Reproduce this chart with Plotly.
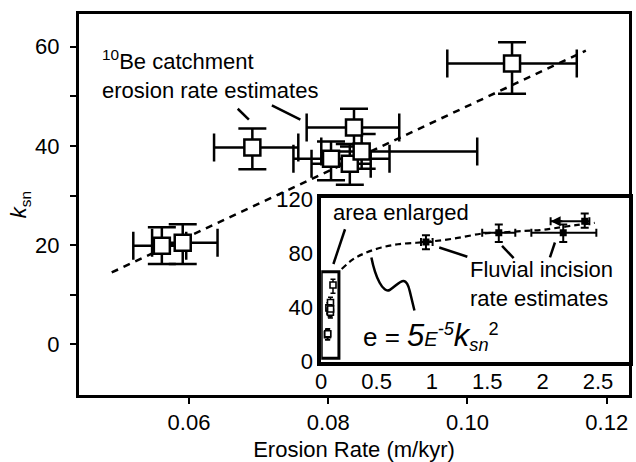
import plotly.graph_objects as go

# ---- main panel data: 10Be catchment erosion rates ----
be_rate = [0.1064, 0.0837, 0.0691, 0.0804, 0.0831, 0.0848, 0.0561, 0.0591]
be_ksn = [56.6, 43.7, 39.7, 37.4, 36.4, 38.9, 19.9, 20.5]
be_rate_err_minus = [0.0093, 0.0068, 0.0055, 0.0054, 0.0055, 0.0058, 0.0041, 0.0044]
be_rate_err_plus = [0.0093, 0.0065, 0.0066, 0.0084, 0.0030, 0.0166, 0.0035, 0.0050]
be_ksn_err_plus = [4.3, 3.8, 3.8, 3.5, 4.0, 3.5, 3.7, 3.7]
be_ksn_err_minus = [6.1, 3.8, 4.4, 4.3, 4.2, 3.5, 3.7, 4.3]

# regression line of main panel
trend_rate = [0.0489, 0.1170]
trend_ksn = [14.5, 59.2]

# ---- inset data: fluvial incision rates ----
fl_rate = [0.946, 1.604, 2.186, 2.38]
fl_ksn = [88.4, 95.3, 95.3, 103.8]
fl_rate_err_minus = [0.045, 0.150, 0.288, 0.308]
fl_rate_err_plus = [0.060, 0.149, 0.299, 0.042]
fl_ksn_err_plus = [5.0, 6.1, 6.1, 5.7]
fl_ksn_err_minus = [5.3, 6.9, 6.9, 4.8]

# inset dashed curve (e = 5E-5 ksn^2 relation as drawn)
curve_rate = [0.185, 0.289, 0.394, 0.543, 0.693, 0.946, 1.20, 1.454, 1.604,
              1.828, 1.977, 2.10, 2.30, 2.47]
curve_ksn = [68.4, 75.7, 80.1, 84.3, 86.7, 88.4, 90.9, 94.6, 95.3,
             96.5, 97.2, 98.5, 100.8, 102.5]

main_xticks = [0.06, 0.08, 0.10, 0.12]
main_xticklabels = ["0.06", "0.08", "0.10", "0.12"]
main_yticks = [0, 20, 40, 60]
inset_xticks = [0, 0.5, 1, 1.5, 2, 2.5]
inset_xticklabels = ["0", "0.5", "1", "1.5", "2", "2.5"]
inset_yticks = [0, 40, 80, 120]

FONT = "Liberation Sans, Arial, Helvetica, sans-serif"
fig = go.Figure()

# main panel
fig.add_trace(go.Scatter(
    x=trend_rate, y=trend_ksn, mode="lines",
    line=dict(color="black", width=2.5, dash="7px,6px"),
    hoverinfo="skip", showlegend=False))
fig.add_trace(go.Scatter(
    x=be_rate, y=be_ksn, mode="markers",
    marker=dict(symbol="square", size=16, color="white",
                line=dict(color="black", width=2.5)),
    error_x=dict(type="data", symmetric=False, array=be_rate_err_plus,
                 arrayminus=be_rate_err_minus, color="black", thickness=2.5, width=14),
    error_y=dict(type="data", symmetric=False, array=be_ksn_err_plus,
                 arrayminus=be_ksn_err_minus, color="black", thickness=2.5, width=14),
    showlegend=False))

# inset
fig.add_trace(go.Scatter(
    x=curve_rate, y=curve_ksn, mode="lines", xaxis="x2", yaxis="y2",
    line=dict(color="black", width=2.2, dash="6px,4px", shape="spline"),
    hoverinfo="skip", showlegend=False))
fig.add_trace(go.Scatter(
    x=be_rate, y=be_ksn, mode="markers", xaxis="x2", yaxis="y2",
    marker=dict(symbol="square", size=6, color="white",
                line=dict(color="black", width=1.6)),
    error_y=dict(type="data", symmetric=False, array=be_ksn_err_plus,
                 arrayminus=be_ksn_err_minus, color="black", thickness=1.5, width=2.5),
    showlegend=False))
fig.add_trace(go.Scatter(
    x=fl_rate, y=fl_ksn, mode="markers", xaxis="x2", yaxis="y2",
    marker=dict(symbol="square", size=7, color="black"),
    error_x=dict(type="data", symmetric=False, array=fl_rate_err_plus,
                 arrayminus=fl_rate_err_minus, color="black", thickness=2, width=4),
    error_y=dict(type="data", symmetric=False, array=fl_ksn_err_plus,
                 arrayminus=fl_ksn_err_minus, color="black", thickness=2, width=4),
    showlegend=False))

shapes = []
line_style = dict(color="black", width=2.5)
# leader lines main panel
for (x0, y0, x1, y1) in [(0.0670, 47.5, 0.0686, 45.3), (0.0719, 48.2, 0.0760, 45.3)]:
    shapes.append(dict(type="line", xref="x", yref="y", x0=x0, y0=y0, x1=x1, y1=y1,
                       line=line_style))
# area enlarged box
shapes.append(dict(type="rect", xref="x2", yref="y2", x0=0.0, y0=2.4, x1=0.16, y1=66.4,
                   line=dict(color="black", width=3)))
# inset leader lines
for (x0, y0, x1, y1) in [(0.215, 97.8, 0.110, 72.1), (1.066, 84.3, 1.32, 77.5),
                         (1.633, 85.5, 1.738, 76.5), (2.111, 88.0, 2.066, 77.0)]:
    shapes.append(dict(type="line", xref="x2", yref="y2", x0=x0, y0=y0, x1=x1, y1=y1,
                       line=line_style))
# squiggle pointer to the curve
shapes.append(dict(type="path", xref="x2", yref="y2",
                   path="M 0.453 77.0 C 0.49 62, 0.56 50, 0.62 53 C 0.70 57, 0.76 66, 0.80 52 L 0.842 37.8",
                   line=line_style))

annotations = [
    dict(text="<sup>10</sup>Be catchment<br>erosion rate estimates", xref="x", yref="y",
         x=0.0472, y=54.5, xanchor="left", yanchor="middle", align="left",
         showarrow=False, font=dict(size=22, family=FONT, color="black")),
    dict(text="area enlarged", xref="x2", yref="y2", x=0.09, y=110.2,
         xanchor="left", yanchor="middle", showarrow=False,
         font=dict(size=22, family=FONT, color="black")),
    dict(text="Fluvial incision<br>rate estimates", xref="x2", yref="y2", x=1.33, y=57.5,
         xanchor="left", yanchor="middle", align="left", showarrow=False,
         font=dict(size=22, family=FONT, color="black")),
    dict(text="e = <i><span style='font-size:31px'>5</span><span style='font-size:20px'>E</span>"
              "<sup>-5</sup><span style='font-size:31px'>k</span><sub>sn</sub></i><sup>2</sup>",
         xref="x2", yref="y2", x=0.36, y=18.5, xanchor="left", yanchor="middle",
         showarrow=False, font=dict(size=26, family=FONT, color="black")),
    # arrow on left end of the last fluvial estimate
    dict(text="", xref="x2", yref="y2", x=fl_rate[3] - fl_rate_err_minus[3], y=fl_ksn[3],
         ax=fl_rate[3] - fl_rate_err_minus[3] + 0.12, ay=fl_ksn[3], axref="x2", ayref="y2",
         showarrow=True, arrowhead=2, arrowsize=1, arrowwidth=2, arrowcolor="black"),
]

fig.update_layout(
    width=636, height=462,
    margin=dict(l=79, r=3, t=13, b=65),
    paper_bgcolor="white", plot_bgcolor="white",
    font=dict(family=FONT, size=22, color="black"),
    shapes=shapes, annotations=annotations,
    xaxis=dict(range=[0.0442, 0.1232], tickvals=main_xticks, ticktext=main_xticklabels,
               ticks="outside", ticklen=6, tickwidth=1.5, tickcolor="black",
               showline=True, linewidth=3, linecolor="black", mirror=True,
               showgrid=False, zeroline=False,
               tickfont=dict(size=22, family=FONT),
               title=dict(text="Erosion Rate (m/kyr)", standoff=8,
                          font=dict(size=22, family=FONT))),
    yaxis=dict(range=[-10.2, 66.6], tickvals=main_yticks,
               ticks="outside", ticklen=6, tickwidth=1.5, tickcolor="black",
               minor=dict(ticks="outside", tickvals=[10, 30, 50], ticklen=6,
                          tickwidth=1.5, tickcolor="black"),
               showline=True, linewidth=3, linecolor="black", mirror=True,
               showgrid=False, zeroline=False, ticklabelstandoff=6,
               tickfont=dict(size=22, family=FONT),
               title=dict(text="<i>k</i><sub>sn</sub>", standoff=3,
                          font=dict(size=22, family=FONT))),
    xaxis2=dict(domain=[0.4404, 1.0], anchor="y2", range=[0, 2.78],
                tickvals=inset_xticks, ticktext=inset_xticklabels, ticks="",
                showline=True, linewidth=3.5, linecolor="black", mirror=True,
                showgrid=False, zeroline=False, ticklabelstandoff=-3,
                tickfont=dict(size=22, family=FONT)),
    yaxis2=dict(domain=[0.0878, 0.5174], anchor="x2", range=[0, 121],
                tickvals=inset_yticks, ticks="",
                showline=True, linewidth=3.5, linecolor="black", mirror=True,
                showgrid=False, zeroline=False, ticklabelstandoff=0,
                tickfont=dict(size=22, family=FONT)),
)

fig.write_html("out.html")
